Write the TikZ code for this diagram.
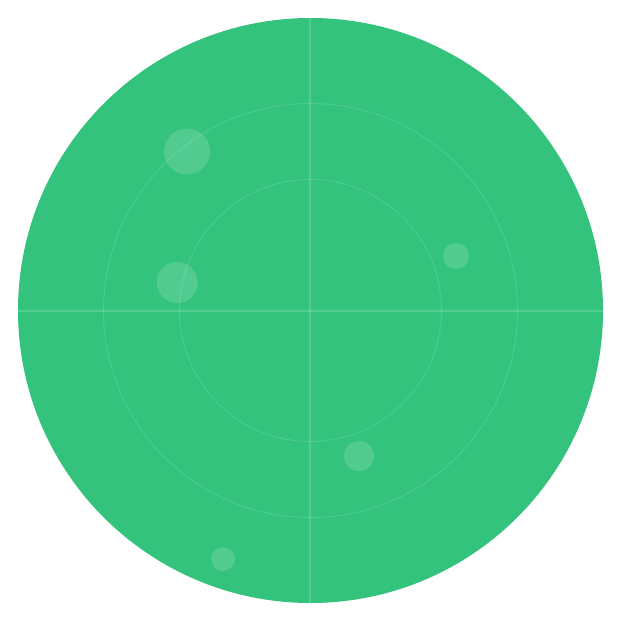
\documentclass[tikz,border=0pt]{standalone}
\definecolor{radar}{RGB}{51,195,124}
\tikzset{
  ring/.style={draw=white, draw opacity=0.13, line width=1pt},
  cross/.style={draw=white, draw opacity=0.16, line width=1.6pt},
  blip/.style={fill=white, fill opacity=0.15},
}
\begin{document}
\begin{tikzpicture}[x=1pt,y=-1pt]
\useasboundingbox (0,0) rectangle (621,621);
\fill[radar] (310.5,310.5) circle (292.5);
\draw[ring] (310.5,310.5) circle (207);
\draw[ring] (310.5,310.5) circle (131);
\coordinate (L) at (18,311);
\coordinate (R) at (603,311);
\coordinate (T) at (310,18);
\coordinate (B) at (310,603);
\draw[cross] (L) -- (R);
\draw[cross] (T) -- (B);
\fill[blip] (187,151.5) circle (23);
\fill[blip] (177.3,282.5) circle (20.5);
\fill[blip] (456,256) circle (13);
\fill[blip] (359,456) circle (15);
\fill[blip] (223,559) circle (12);
\end{tikzpicture}
\end{document}
